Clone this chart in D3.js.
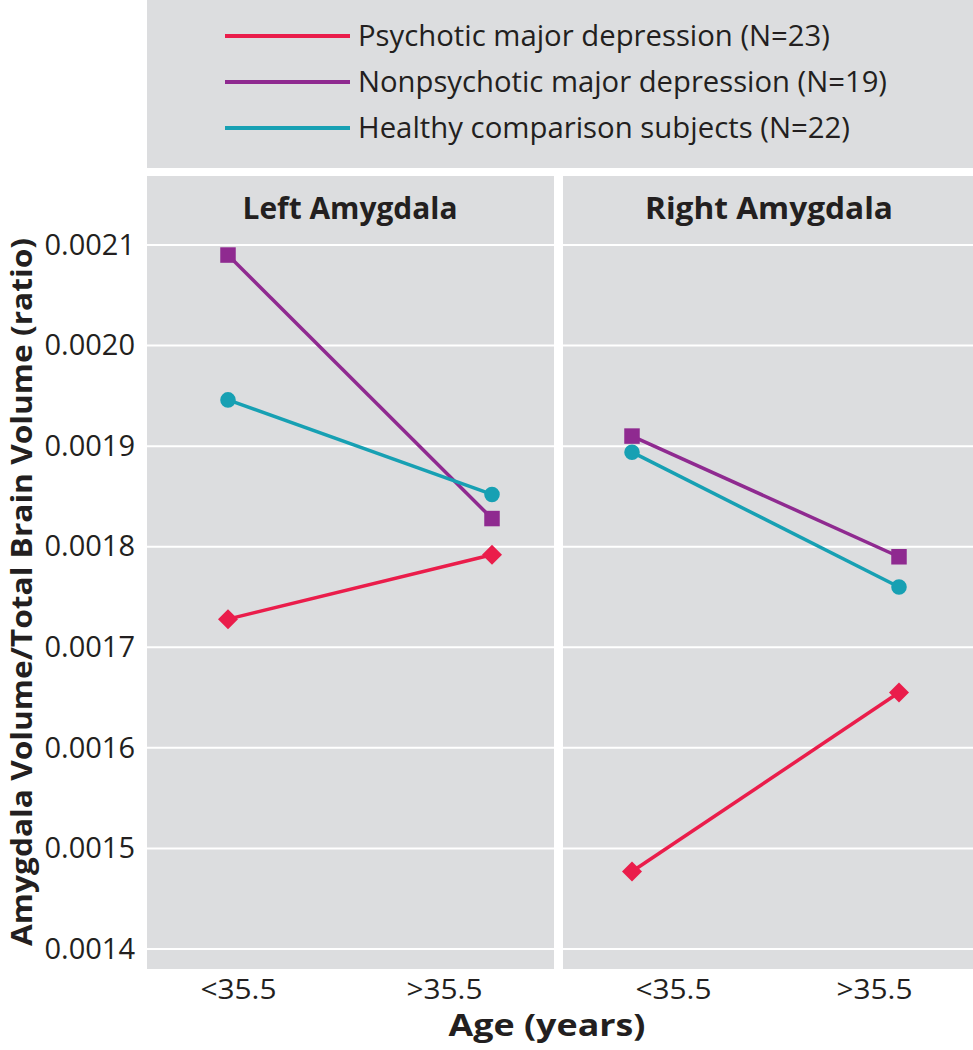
<!DOCTYPE html>
<html><head><meta charset="utf-8">
<script src="https://cdn.jsdelivr.net/npm/d3@7"></script>
<style>body{margin:0;background:#fff}svg{display:block}</style>
</head><body>
<script>
const groups = ["<35.5", ">35.5"];
const panels = ["Left Amygdala", "Right Amygdala"];
const seriesNames = ["Psychotic major depression (N=23)", "Nonpsychotic major depression (N=19)", "Healthy comparison subjects (N=22)"];
const psychotic = [[0.001728, 0.001792], [0.001477, 0.001655]];
const nonpsychotic = [[0.00209, 0.001828], [0.00191, 0.00179]];
const healthy = [[0.001946, 0.001852], [0.001894, 0.00176]];
const yTicks = [0.0014, 0.0015, 0.0016, 0.0017, 0.0018, 0.0019, 0.0020, 0.0021];
const colors = ["#ea1d4b", "#8f2a90", "#17a0b3"];
const shapes = ["diamond", "square", "circle"];
const seriesValues = [psychotic, nonpsychotic, healthy];

(function () {
const W = 973, H = 1050, bg = "#dcdddf", ink = "#231f20";
const svg = d3.select("body").append("svg").attr("width", W).attr("height", H);
const font = "'Open Sans', Lato, sans-serif";

// legend box
svg.append("rect").attr("x", 147).attr("y", 0).attr("width", 826).attr("height", 168).attr("fill", bg);
const legY = d3.scalePoint().domain(seriesNames).range([36, 128]);
const legLen = [472, 529, 492];
seriesNames.forEach((n, i) => {
  svg.append("line").attr("x1", 225).attr("x2", 350).attr("y1", legY(n)).attr("y2", legY(n))
    .attr("stroke", colors[i]).attr("stroke-width", 4);
  svg.append("text").attr("x", 358).attr("y", legY(n) + 10).text(n)
    .attr("font-family", font).attr("font-size", 29).attr("fill", ink)
    .attr("textLength", legLen[i]).attr("lengthAdjust", "spacingAndGlyphs");
});

const y = d3.scaleLinear().domain([0.0014, 0.0021]).range([949, 245]);
const pTop = 176, pBottom = 969;
const panelX = [[147, 554], [563, 973]];
const ptRange = [[228, 492], [632, 899]];
const tickRange = [[238, 444], [673, 874]];
const titleX = [350, 769], titleLen = [215, 248];

panels.forEach((p, pi) => {
  const [x0, x1] = panelX[pi];
  const g = svg.append("g");
  g.append("rect").attr("x", x0).attr("y", pTop).attr("width", x1 - x0).attr("height", pBottom - pTop).attr("fill", bg);
  g.selectAll(".grid").data(yTicks).join("line")
    .attr("x1", x0).attr("x2", x1).attr("y1", d => y(d)).attr("y2", d => y(d))
    .attr("stroke", "#fff").attr("stroke-width", 2);
  g.append("text").attr("x", titleX[pi]).attr("y", 219).attr("text-anchor", "middle")
    .attr("font-family", font).attr("font-weight", "bold").attr("font-size", 30).attr("fill", ink)
    .attr("textLength", titleLen[pi]).attr("lengthAdjust", "spacingAndGlyphs").text(p);
  const xp = d3.scalePoint().domain(groups).range(ptRange[pi]);
  const xt = d3.scalePoint().domain(groups).range(tickRange[pi]);
  const ax = g.append("g").attr("transform", `translate(0,${pBottom})`)
    .call(d3.axisBottom(xt).tickSize(0).tickPadding(10));
  ax.select(".domain").remove();
  ax.selectAll("text").attr("font-family", font).attr("font-size", 28).attr("fill", ink)
    .attr("textLength", 76).attr("lengthAdjust", "spacingAndGlyphs");
  seriesValues.forEach((vals, si) => {
    const data = groups.map((gname, gi) => ({g: gname, v: vals[pi][gi]}));
    g.append("path").datum(data)
      .attr("d", d3.line().x(d => xp(d.g)).y(d => y(d.v)))
      .attr("fill", "none").attr("stroke", colors[si]).attr("stroke-width", 3.5);
    const sym = shapes[si] === "circle" ? d3.symbolCircle : d3.symbolSquare;
    const size = shapes[si] === "diamond" ? 200 : shapes[si] === "square" ? 240 : 190;
    g.selectAll(null).data(data).join("path")
      .attr("d", d3.symbol().type(sym).size(size))
      .attr("transform", d => `translate(${xp(d.g)},${y(d.v)})` + (shapes[si] === "diamond" ? " rotate(45)" : ""))
      .attr("fill", colors[si]);
  });
});

const ay = svg.append("g").attr("transform", "translate(147,0)")
  .call(d3.axisLeft(y).tickValues(yTicks).tickFormat(d3.format(".4f")).tickSize(0).tickPadding(12));
ay.select(".domain").remove();
ay.selectAll("text").attr("font-family", font).attr("font-size", 29).attr("fill", ink);

svg.append("text").attr("transform", "translate(31.5,592) rotate(-90)").attr("text-anchor", "middle")
  .attr("font-family", font).attr("font-weight", "bold").attr("font-size", 29).attr("fill", ink)
  .attr("textLength", 708).attr("lengthAdjust", "spacingAndGlyphs")
  .text("Amygdala Volume/Total Brain Volume (ratio)");
svg.append("text").attr("x", 547).attr("y", 1036).attr("text-anchor", "middle")
  .attr("font-family", font).attr("font-weight", "bold").attr("font-size", 30).attr("fill", ink)
  .attr("textLength", 197).attr("lengthAdjust", "spacingAndGlyphs")
  .text("Age (years)");
})();
</script>
</body></html>
